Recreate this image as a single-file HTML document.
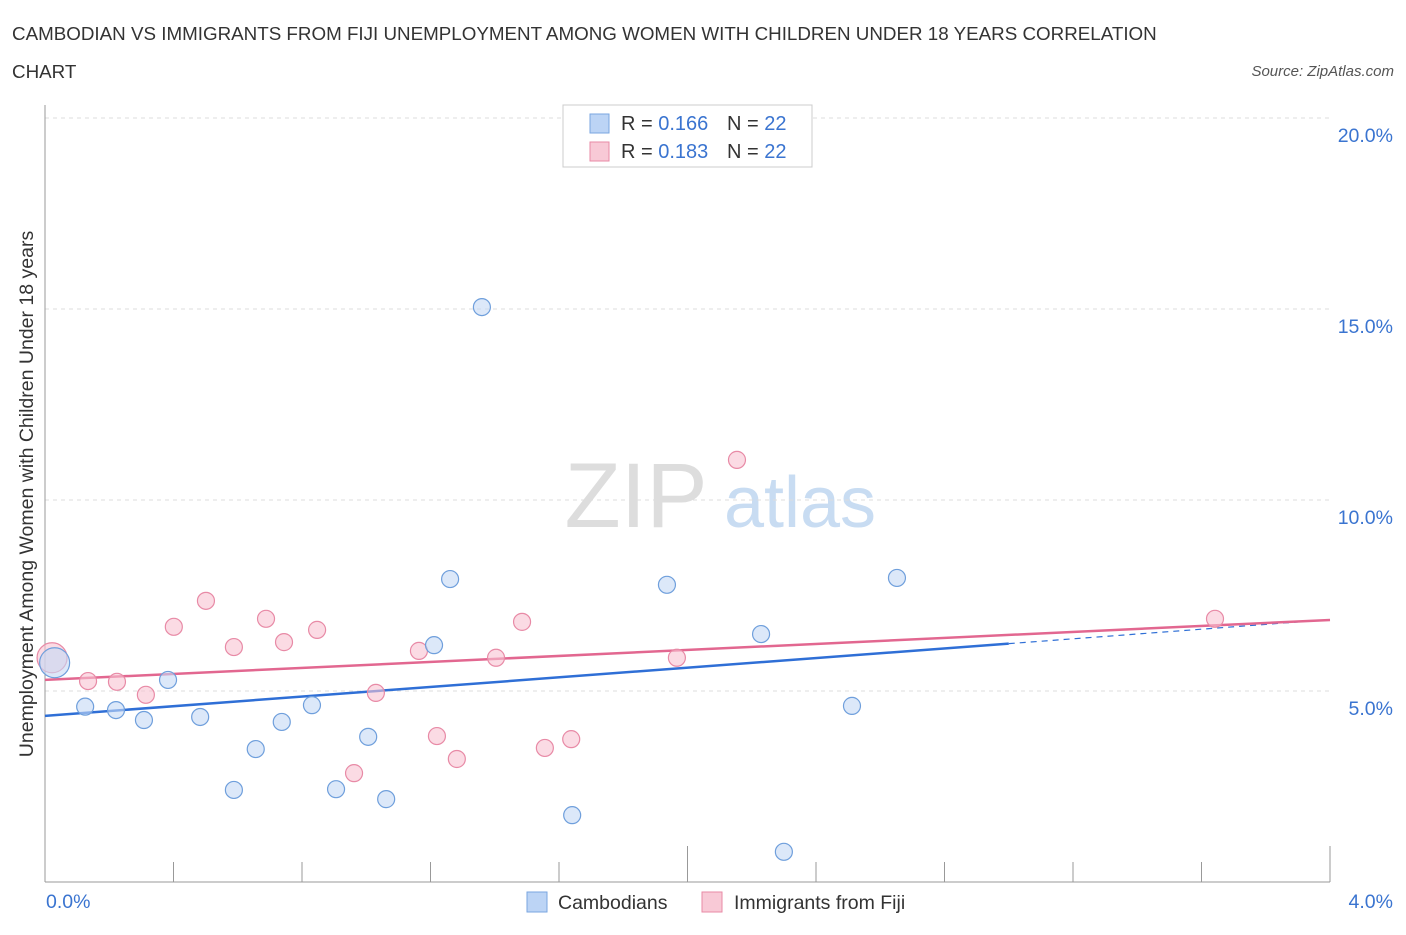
<!DOCTYPE html>
<html><head><meta charset="utf-8">
<style>
body{margin:0;background:#fff;font-family:"Liberation Sans",sans-serif;}
svg text{font-family:"Liberation Sans",sans-serif;}
</style></head>
<body>
<svg width="1406" height="930" viewBox="0 0 1406 930">
<text x="12" y="40" font-size="18.8" fill="#333">CAMBODIAN VS IMMIGRANTS FROM FIJI UNEMPLOYMENT AMONG WOMEN WITH CHILDREN UNDER 18 YEARS CORRELATION</text>
<text x="12" y="78" font-size="18.8" fill="#333">CHART</text>
<text x="1394" y="76" font-size="15" fill="#555" font-style="italic" text-anchor="end">Source: ZipAtlas.com</text>
<text x="636" y="527" font-size="92" fill="#ddd" font-family="Liberation Serif" text-anchor="middle">ZIP</text>
<text x="800" y="527" font-size="72" fill="#c8dcf2" text-anchor="middle">atlas</text>
<text transform="translate(33,494) rotate(-90)" font-size="19.5" fill="#333" text-anchor="middle">Unemployment Among Women with Children Under 18 years</text>
<g id="grid"></g>
<g id="axes"></g>
<g id="lines"></g>
<g id="points"></g>
<g>
<rect x="563" y="105" width="249" height="62" fill="#fff" stroke="#ccc"/>
<rect x="590" y="114" width="19" height="19" fill="#bcd4f5" stroke="#7aa6e0"/>
<text x="621" y="130" font-size="20" fill="#333">R = <tspan fill="#3a74d0">0.166</tspan></text>
<text x="727" y="130" font-size="20" fill="#333">N = <tspan fill="#3a74d0">22</tspan></text>
<rect x="590" y="142" width="19" height="19" fill="#f8c9d6" stroke="#e88aa6"/>
<text x="621" y="158" font-size="20" fill="#333">R = <tspan fill="#3a74d0">0.183</tspan></text>
<text x="727" y="158" font-size="20" fill="#333">N = <tspan fill="#3a74d0">22</tspan></text>
</g>
<g>
<rect x="527" y="892" width="20" height="20" fill="#bcd4f5" stroke="#7aa6e0"/>
<text x="558" y="909" font-size="19.5" fill="#333">Cambodians</text>
<rect x="702" y="892" width="20" height="20" fill="#f8c9d6" stroke="#e88aa6"/>
<text x="734" y="909" font-size="19.5" fill="#333">Immigrants from Fiji</text>
</g>
</svg>
<script>
const yTicks=[5,10,15,20];
const yTickLabels=["5.0%","10.0%","15.0%","20.0%"];
const xTickLabels=["0.0%","4.0%"];
const blueX=[0.03,0.125,0.221,0.308,0.383,0.483,0.588,0.656,0.737,0.831,0.906,1.006,1.062,1.211,1.261,1.360,1.641,1.936,2.229,2.300,2.512,2.652];
const blueY=[5.74,4.59,4.50,4.24,5.29,4.32,2.41,3.48,4.19,4.63,2.43,3.80,2.17,6.20,7.93,15.05,1.75,7.78,6.49,0.79,4.61,7.96];
const pinkX=[0.022,0.134,0.224,0.314,0.401,0.501,0.588,0.688,0.744,0.847,0.962,1.030,1.164,1.220,1.282,1.404,1.485,1.556,1.638,1.967,2.154,3.642];
const pinkY=[5.87,5.26,5.24,4.90,6.68,7.36,6.15,6.89,6.28,6.60,2.85,4.95,6.05,3.82,3.22,5.87,6.81,3.51,3.74,5.87,11.05,6.89];
const blueLine=[4.35,6.24];
const pinkLine=[5.29,6.86];
const L=45,R=1330,T=118,B=882;
const sx=v=>L+v/4*(R-L), sy=v=>B-v/20*(B-T);
const NS="http://www.w3.org/2000/svg";
function mk(t,a,p){const e=document.createElementNS(NS,t);for(const k in a)e.setAttribute(k,a[k]);p.appendChild(e);return e;}
const grid=document.getElementById('grid'),axes=document.getElementById('axes');
yTicks.forEach((v,i)=>{
 const g=mk('line',{x1:L,x2:R,y1:sy(v),y2:sy(v),stroke:'#ddd','stroke-dasharray':'4,4'},grid);
 
 
 const t=mk('text',{x:1393,y:sy(v)+24,'font-size':19.5,fill:'#3a74d0','text-anchor':'end'},axes);
 t.textContent=yTickLabels[i];
 
 
});
const xa=mk('line',{x1:L,x2:R,y1:B,y2:B,stroke:'#999'},axes);


const ya=mk('line',{x1:L,x2:L,y1:105,y2:B,stroke:'#999'},axes);


for(let i=0;i<=10;i++){const x=L+i*(R-L)/10;const tk=mk('line',{x1:x,x2:x,y1:B,y2:i%5==0?846:862,stroke:'#999'},axes);
 
 }
[[0,'start',46],[1,'end',1393]].forEach(([i,a,x])=>{const t=mk('text',{x:x,y:908,'font-size':19.5,fill:'#3a74d0','text-anchor':a},axes);t.textContent=xTickLabels[i];
 
 });
const lines=document.getElementById('lines');
const bl=mk('line',{x1:sx(0),y1:sy(blueLine[0]),x2:sx(3.0),y2:sy(blueLine[1]),stroke:'#2f6fd6','stroke-width':2.5},lines);


const slope=(blueLine[1]-blueLine[0])/3.0;
const bd=mk('line',{x1:sx(3.0),y1:sy(blueLine[1]),x2:sx(4),y2:sy(blueLine[0]+slope*4),stroke:'#2f6fd6','stroke-width':1.2,'stroke-dasharray':'6,5'},lines);


const pl=mk('line',{x1:sx(0),y1:sy(pinkLine[0]),x2:sx(4),y2:sy(pinkLine[1]),stroke:'#e26790','stroke-width':2.5},lines);


const pts=document.getElementById('points');
function draw(xs,ys,fill,stroke,name){xs.forEach((x,i)=>{
 const c=mk('circle',{cx:sx(x),cy:sy(ys[i]),r:i==0?15:8.5,fill:fill,stroke:stroke,'stroke-width':1.2,'fill-opacity':0.6},pts);
 
 });}
draw(pinkX,pinkY,'#f8c3d2','#e88aa6','point-fiji');
draw(blueX,blueY,'#c4d9f5','#6f9fdc','point-cambodians');
</script>
</body></html>
